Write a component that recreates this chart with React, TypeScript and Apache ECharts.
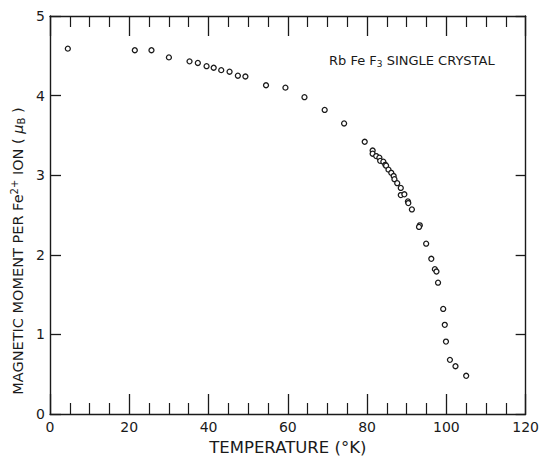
import React, { useEffect, useRef } from "react";
import * as echarts from "echarts";

const temperature = [
  4.5, 21.4, 25.6, 30.0, 35.2, 37.3, 39.5, 41.3, 43.2, 45.3, 47.4, 49.3, 54.5, 59.4,
  64.2, 69.3, 74.2, 79.4, 81.4, 81.4, 82.3, 83.1, 83.3, 84.1, 84.6, 84.8, 85.4, 86.1,
  86.7, 86.9, 87.6, 88.5, 88.5, 89.4, 90.3, 90.4, 91.3, 93.3, 93.1, 94.9, 96.2, 97.1,
  97.5, 97.9, 99.2, 99.6, 99.9, 100.9, 102.3, 105.0,
];
const moment = [
  4.59, 4.57, 4.57, 4.48, 4.43, 4.41, 4.37, 4.35, 4.32, 4.3, 4.25, 4.24, 4.13, 4.1,
  3.98, 3.82, 3.65, 3.42, 3.31, 3.27, 3.24, 3.22, 3.18, 3.17, 3.13, 3.12, 3.07, 3.03,
  2.99, 2.95, 2.9, 2.84, 2.75, 2.76, 2.67, 2.65, 2.57, 2.37, 2.35, 2.14, 1.95, 1.82,
  1.79, 1.65, 1.32, 1.12, 0.91, 0.68, 0.6, 0.48,
];
const xTicks = [0, 20, 40, 60, 80, 100, 120];
const yTicks = [0, 1, 2, 3, 4, 5];

const FONT = "DejaVu Sans";
const INK = "#1a1a1a";

export default function App() {
  const ref = useRef<HTMLDivElement>(null);
  useEffect(() => {
    if (!ref.current) return;
    const chart = echarts.init(ref.current, undefined, { renderer: "svg" });
    const data = temperature.map((t, i) => [t, moment[i]]);
    const axisLine = { show: true, onZero: false, lineStyle: { color: INK, width: 1.4 } };
    chart.setOption({
      animation: false,
      backgroundColor: "#ffffff",
      textStyle: { fontFamily: FONT },
      title: {
        left: 324,
        top: 48,
        text: "Rb Fe F{sub|3} SINGLE CRYSTAL",
        textStyle: {
          fontFamily: FONT,
          fontSize: 13,
          fontWeight: "normal",
          color: INK,
          rich: {
            sub: { fontSize: 9, verticalAlign: "bottom", padding: [6, 0, 0, 0], fontFamily: FONT, color: INK },
          },
        },
      },
      graphic: [
        {
          type: "text",
          x: 18,
          y: 251,
          rotation: Math.PI / 2,
          style: {
            text: "MAGNETIC MOMENT PER Fe{sup|2+} ION ( {mu|μ}{sub|B} )",
            font: `14.5px "${FONT}"`,
            fill: INK,
            align: "center",
            verticalAlign: "middle",
            rich: {
              sup: { fontSize: 10, verticalAlign: "top", padding: [0, 0, 7, 0], fontFamily: FONT, fill: INK },
              mu: { fontSize: 14.5, fontStyle: "italic", fontFamily: FONT, fill: INK },
              sub: { fontSize: 10, verticalAlign: "bottom", padding: [6, 0, 0, 0], fontFamily: FONT, fill: INK },
            },
          },
        },
      ],
      grid: { left: 50, top: 16, width: 478, height: 407, containLabel: false },
      xAxis: [
        {
          type: "value",
          position: "bottom",
          min: 0,
          max: 120,
          interval: 20,
          axisLine,
          axisTick: { show: true, inside: true, length: 20, lineStyle: { color: INK, width: 1.3 } },
          minorTick: { show: true, splitNumber: 4, length: 11, lineStyle: { color: INK, width: 1.2 } },
          splitLine: { show: false },
          axisLabel: {
            show: true,
            margin: 6,
            color: INK,
            fontSize: 14,
            fontFamily: FONT,
            formatter: (v: number) => (xTicks.includes(v) ? String(v) : ""),
          },
          name: "TEMPERATURE (°K)",
          nameLocation: "middle",
          nameGap: 25,
          nameTextStyle: { color: INK, fontSize: 16.5, fontFamily: FONT },
        },
        {
          type: "value",
          position: "top",
          min: 0,
          max: 120,
          interval: 20,
          axisLine,
          axisTick: { show: true, inside: true, length: 20, lineStyle: { color: INK, width: 1.3 } },
          minorTick: { show: true, splitNumber: 4, length: 11, lineStyle: { color: INK, width: 1.2 } },
          splitLine: { show: false },
          axisLabel: { show: false },
        },
      ],
      yAxis: [
        {
          type: "value",
          position: "left",
          min: 0,
          max: 5,
          interval: 1,
          axisLine,
          axisTick: { show: true, inside: true, length: 11, lineStyle: { color: INK, width: 1.3 } },
          splitLine: { show: false },
          axisLabel: {
            show: true,
            margin: 5,
            color: INK,
            fontSize: 14,
            fontFamily: FONT,
            formatter: (v: number) => (yTicks.includes(v) ? String(v) : ""),
          },
        },
        {
          type: "value",
          position: "right",
          min: 0,
          max: 5,
          interval: 1,
          axisLine,
          axisTick: { show: true, inside: true, length: 10, lineStyle: { color: INK, width: 1.3 } },
          splitLine: { show: false },
          axisLabel: { show: false },
        },
      ],
      series: [
        {
          type: "scatter",
          xAxisIndex: 0,
          yAxisIndex: 0,
          data,
          symbol: "circle",
          symbolSize: 5,
          itemStyle: { color: "#ffffff", borderColor: INK, borderWidth: 1.3, opacity: 1 },
        },
      ],
    });
    return () => chart.dispose();
  }, []);
  return (
    <div
      ref={ref}
      style={{ position: "fixed", left: 0, top: 0, width: 542, height: 461, background: "#fff" }}
    />
  );
}
